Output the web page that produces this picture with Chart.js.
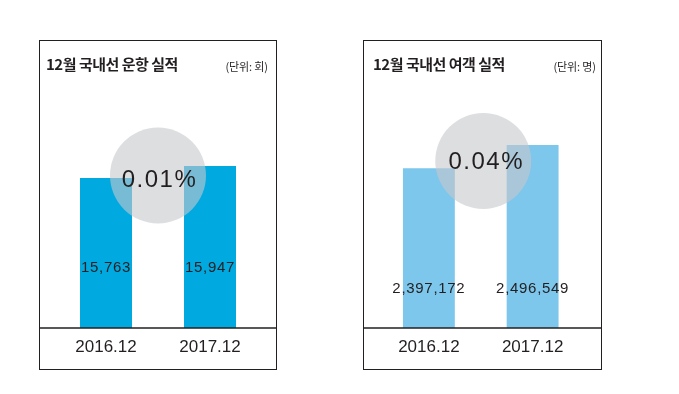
<!DOCTYPE html>
<html>
<head>
<meta charset="utf-8">
<script src="https://cdn.jsdelivr.net/npm/chart.js@4.4.1/dist/chart.umd.min.js"></script>
<style>
  html, body { margin: 0; padding: 0; background: #ffffff; }
  body { width: 679px; height: 394px; position: relative; overflow: hidden; }
  .panel { position: absolute; box-sizing: border-box; border: 1px solid #231f20; background: #fff; }
  .panel canvas { position: absolute; left: 0; top: 0; }
  .title { position: absolute; font-family: "Noto Sans CJK KR", sans-serif; font-weight: 700;
           font-size: 15px; line-height: 15px; letter-spacing: -0.5px; color: #231f20; white-space: nowrap; }
  .unit { position: absolute; font-family: "Noto Sans CJK KR", sans-serif; font-weight: 400;
          font-size: 11px; line-height: 11px; letter-spacing: -0.1px; color: #231f20; white-space: nowrap; }
</style>
</head>
<body>
<div class="panel" id="p1" style="left:39px; top:40px; width:238px; height:330px;">
  <canvas id="c1" width="236" height="328"></canvas>
  <div class="title" style="left:6px; top:15px;">12월 국내선 운항 실적</div>
  <div class="unit" style="right:8px; top:20px;">(단위: 회)</div>
</div>
<div class="panel" id="p2" style="left:363px; top:40px; width:239px; height:330px;">
  <canvas id="c2" width="237" height="328"></canvas>
  <div class="title" style="left:9px; top:15px;">12월 국내선 여객 실적</div>
  <div class="unit" style="right:5px; top:20px;">(단위: 명)</div>
</div>
<script>
// ---- data ----
const categories = ['2016.12', '2017.12'];
const flights = [15763, 15947];
const passengers = [2397172, 2496549];
const flightChange = '0.01%';
const passengerChange = '0.04%';
const flightAxisRange = [13463, 16346];
const passengerAxisRange = [1716170, 2517870];

const INK = '#231f20';

const decorPlugin = {
  id: 'decor',
  afterDatasetsDraw(chart, args, opts) {
    const ctx = chart.ctx;
    const area = chart.chartArea;
    const bars = chart.getDatasetMeta(0).data;
    const values = chart.data.datasets[0].data;
    ctx.save();
    // axis line across full panel width
    ctx.strokeStyle = INK;
    ctx.lineWidth = 1.3;
    ctx.beginPath();
    ctx.moveTo(0, area.bottom);
    ctx.lineTo(chart.width, area.bottom);
    ctx.stroke();
    // circle
    const cx = (bars[0].x + bars[1].x) / 2 + opts.dx;
    ctx.fillStyle = 'rgba(198,200,203,0.6)';
    ctx.beginPath();
    ctx.arc(cx, area.bottom - opts.circleUp, 48, 0, Math.PI * 2);
    ctx.fill();
    // percentage
    ctx.fillStyle = INK;
    ctx.textAlign = 'center';
    ctx.textBaseline = 'middle';
    ctx.font = '24px "Liberation Sans", Arial, sans-serif';
    ctx.letterSpacing = '1.5px';
    ctx.fillText(opts.pct, cx + opts.textDx, area.bottom - opts.textUp);
    // values
    ctx.font = '15px "Liberation Sans", Arial, sans-serif';
    ctx.letterSpacing = '0.7px';
    bars.forEach((b, i) => {
      ctx.fillText(values[i].toLocaleString('en-US'), b.x, area.bottom - opts.labelUp);
    });
    ctx.restore();
  }
};

function makeChart(id, values, range, color, pad, decor) {
  return new Chart(document.getElementById(id), {
    type: 'bar',
    data: {
      labels: categories,
      datasets: [{ data: values, backgroundColor: color, borderWidth: 0,
                   categoryPercentage: 1.0, barPercentage: 0.5 }]
    },
    options: {
      responsive: false,
      animation: false,
      layout: { padding: { left: pad[0], right: pad[1], top: 99, bottom: 0 } },
      plugins: { legend: { display: false }, tooltip: { enabled: false }, decor: decor },
      scales: {
        x: {
          grid: { display: false, drawTicks: false },
          border: { display: false },
          ticks: { color: INK, padding: 9,
                   font: { family: '"Liberation Sans", Arial, sans-serif', size: 17 } },
          afterFit: s => { s.height = 41; }
        },
        y: { display: false, min: range[0], max: range[1] }
      }
    },
    plugins: [decorPlugin]
  });
}

makeChart('c1', flights, flightAxisRange, '#00a9e0', [14, 14],
  { pct: flightChange, dx: 0, textDx: 1.5, circleUp: 152.5, textUp: 148, labelUp: 60 });
makeChart('c2', passengers, passengerAxisRange, '#7dc6ec', [13, 16.5],
  { pct: passengerChange, dx: 2.5, textDx: 3, circleUp: 167, textUp: 166, labelUp: 39 });
</script>
</body>
</html>
